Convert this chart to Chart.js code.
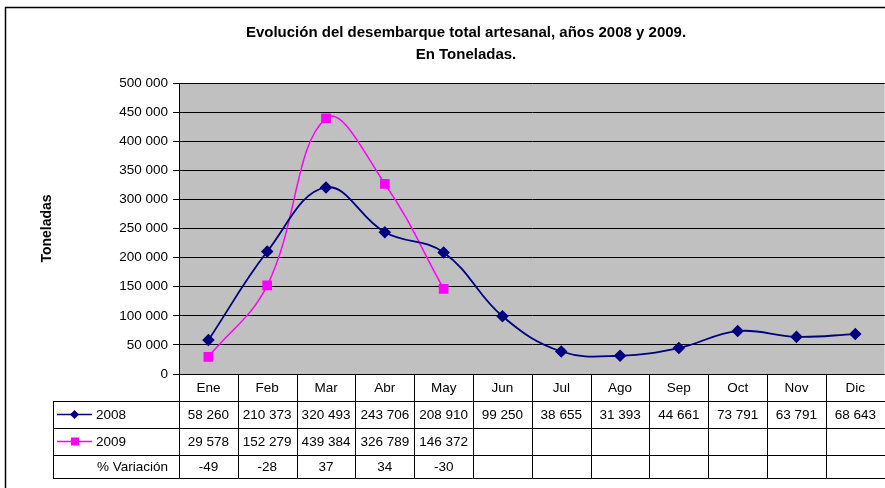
<!DOCTYPE html>
<html>
<head>
<meta charset="utf-8">
<script src="https://cdn.jsdelivr.net/npm/chart.js@4"></script>
<style>
  body { margin: 0; background: #fff; overflow: hidden; }
  #wrap { width: 885px; height: 488px; position: relative; overflow: hidden; }
</style>
</head>
<body>
<div id="wrap"><canvas id="myChart" width="892" height="488"></canvas></div>
<script>
// Data
const months = ['Ene', 'Feb', 'Mar', 'Abr', 'May', 'Jun', 'Jul', 'Ago', 'Sep', 'Oct', 'Nov', 'Dic'];
const values2008 = [58260, 210373, 320493, 243706, 208910, 99250, 38655, 31393, 44661, 73791, 63791, 68643];
const values2009 = [29578, 152279, 439384, 326789, 146372];
const variation = [-49, -28, 37, 34, -30];
const yTicks = [0, 50000, 100000, 150000, 200000, 250000, 300000, 350000, 400000, 450000, 500000];

const FONT = 'Liberation Sans, Arial, sans-serif';
const NAVY = '#000080';
const PINK = '#FF00FF';

function fmt(v) {
  return String(v).replace(/\B(?=(\d{3})+(?!\d))/g, ' ');
}

// background, title, axis title and data table
const tablePlugin = {
  id: 'tablePlugin',
  beforeDraw(chart) {
    const c = chart.ctx, a = chart.chartArea;
    c.save();
    c.fillStyle = '#fff';
    c.fillRect(0, 0, chart.width, chart.height);
    c.fillStyle = '#C0C0C0';
    c.fillRect(a.left, a.top, a.right - a.left, a.bottom - a.top);
    c.strokeStyle = '#000';
    c.lineWidth = 1.5;
    c.beginPath();
    c.moveTo(5.5, chart.height);
    c.lineTo(5.5, 7.5);
    c.lineTo(chart.width, 7.5);
    c.stroke();
    c.restore();
  },
  afterDraw(chart) {
    const c = chart.ctx, a = chart.chartArea;
    const x = chart.scales.x;
    const w = (a.right - a.left) / months.length;
    const rows = [a.bottom, 401, 428, 455, 478];
    const leftCol = 53;
    c.save();

    // title
    c.fillStyle = '#000';
    c.textAlign = 'center';
    c.textBaseline = 'middle';
    c.font = 'bold 15px ' + FONT;
    c.fillText('Evolución del desembarque total artesanal, años 2008 y 2009.', 466, 33);
    c.fillText('En Toneladas.', 466, 55);

    // y axis title
    c.save();
    c.translate(47, (a.top + a.bottom) / 2);
    c.rotate(-Math.PI / 2);
    c.font = 'bold 14px ' + FONT;
    c.fillText('Toneladas', 0, 0);
    c.restore();

    // grid lines of the table
    c.strokeStyle = '#000';
    c.lineWidth = 1;
    c.beginPath();
    for (let r = 1; r < rows.length; r++) {
      c.moveTo(leftCol, rows[r] + 0.5);
      c.lineTo(chart.width, rows[r] + 0.5);
    }
    c.moveTo(leftCol + 0.5, rows[1]);
    c.lineTo(leftCol + 0.5, rows[4]);
    for (let i = 0; i <= months.length; i++) {
      const bx = Math.round(a.left + i * w) + 0.5;
      c.moveTo(bx, a.bottom);
      c.lineTo(bx, rows[4]);
    }
    c.stroke();

    // cell text
    c.font = '13.5px ' + FONT;
    c.fillStyle = '#000';
    c.textAlign = 'center';
    months.forEach((m, i) => {
      const cx = x.getPixelForValue(i);
      c.fillText(m, cx, (rows[0] + rows[1]) / 2 + 1);
      c.fillText(fmt(values2008[i]), cx, (rows[1] + rows[2]) / 2 + 1);
      if (i < values2009.length) c.fillText(fmt(values2009[i]), cx, (rows[2] + rows[3]) / 2 + 1);
      if (i < variation.length) c.fillText(String(variation[i]), cx, (rows[3] + rows[4]) / 2 + 1);
    });

    // row headers with legend keys
    c.textAlign = 'left';
    const keys = [
      { label: '2008', color: NAVY, y: (rows[1] + rows[2]) / 2, shape: 'diamond' },
      { label: '2009', color: PINK, y: (rows[2] + rows[3]) / 2, shape: 'square' }
    ];
    keys.forEach(k => {
      c.strokeStyle = k.color;
      c.lineWidth = 1.5;
      c.beginPath();
      c.moveTo(57, k.y);
      c.lineTo(92, k.y);
      c.stroke();
      c.fillStyle = k.color;
      c.beginPath();
      if (k.shape === 'diamond') {
        c.moveTo(74.5, k.y - 4.5);
        c.lineTo(79, k.y);
        c.lineTo(74.5, k.y + 4.5);
        c.lineTo(70, k.y);
      } else {
        c.rect(71, k.y - 4, 8, 8);
      }
      c.fill();
      c.fillStyle = '#000';
      c.fillText(k.label, 96, k.y + 1);
    });
    c.fillText('% Variación', 97, (rows[3] + rows[4]) / 2 + 1);
    c.restore();
  }
};

new Chart(document.getElementById('myChart'), {
  type: 'line',
  data: {
    labels: months,
    datasets: [{
      label: '2008',
      data: values2008,
      borderColor: NAVY,
      backgroundColor: NAVY,
      borderWidth: 1.8,
      pointStyle: 'rectRot',
      pointRadius: 5,
      tension: 0.4
    }, {
      label: '2009',
      data: values2009,
      borderColor: PINK,
      backgroundColor: PINK,
      borderWidth: 1.5,
      pointStyle: 'rect',
      pointRadius: 5.8,
      tension: 0.4
    }]
  },
  options: {
    responsive: false,
    animation: false,
    layout: { padding: { top: 83, bottom: 114, left: 0, right: 0 } },
    plugins: {
      legend: { display: false },
      title: { display: false },
      tooltip: { enabled: false }
    },
    scales: {
      x: {
        display: false,
        offset: true,
        ticks: { display: false }
      },
      y: {
        min: 0,
        max: 500000,
        afterFit(scale) { scale.width = 179; },
        afterBuildTicks(scale) { scale.ticks = yTicks.map(v => ({ value: v })); },
        border: { display: true, color: '#000', width: 1 },
        grid: { color: '#000', lineWidth: 1, tickLength: 6, drawTicks: true },
        ticks: {
          color: '#000',
          padding: 5,
          font: { family: FONT, size: 13.5 },
          callback: v => fmt(v)
        }
      }
    }
  },
  plugins: [tablePlugin]
});
</script>
</body>
</html>
